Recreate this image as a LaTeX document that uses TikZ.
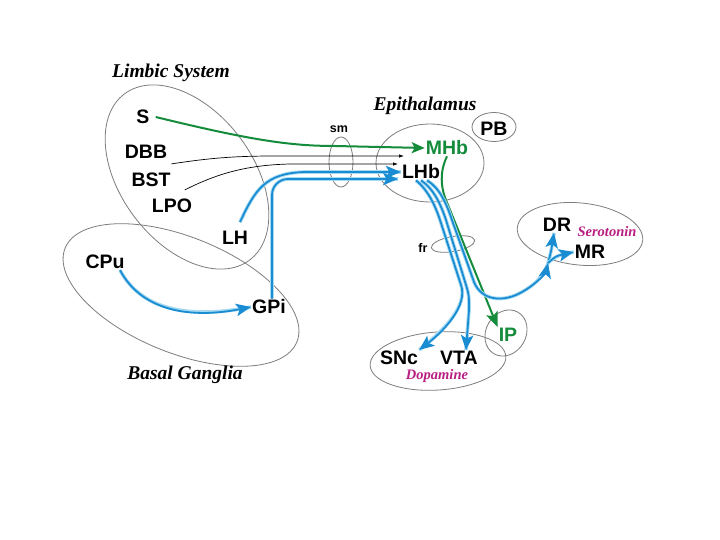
\documentclass[tikz,border=0pt]{standalone}
\usepackage{fontspec}
\setmainfont{Liberation Serif}
\setsansfont{Liberation Sans}
\usetikzlibrary{arrows.meta,shapes.geometric}
\definecolor{gr}{RGB}{20,140,60}
\definecolor{cy}{RGB}{25,140,210}
\definecolor{halo}{RGB}{165,218,242}
\definecolor{mag}{RGB}{185,30,130}
\definecolor{rg}{RGB}{125,125,125}
\begin{document}
\begin{tikzpicture}[x=1pt,y=-1pt,
 region/.style={draw=rg, line width=0.8pt, ellipse, inner sep=0pt},
 lab/.style={font=\sffamily\bfseries\fontsize{19.5}{22}\selectfont, inner sep=1pt},
 smalllab/.style={font=\sffamily\bfseries\fontsize{12.5}{14}\selectfont, inner sep=1pt},
 title/.style={font=\rmfamily\bfseries\itshape\fontsize{19.5}{22}\selectfont},
 trans/.style={font=\rmfamily\bfseries\itshape\fontsize{14.5}{16}\selectfont, text=mag},
 grn/.style={draw=gr, line width=2pt, -{Stealth[length=13pt,width=11pt,inset=3pt]}},
 cyn/.style={draw=cy, line width=1.8pt, -{Stealth[length=15pt,width=12.5pt,inset=3.5pt]}, preaction={draw=halo, line width=3.6pt, -}},
 blk/.style={draw=black, line width=0.7pt, -{Latex[length=5pt,width=3.5pt]}}]
\fill[white] (0,0) rectangle (720,540);
\useasboundingbox (0,0) rectangle (720,540);
% regions
\node[region, minimum width=208pt, minimum height=132pt, rotate=-53] (limbic) at (187,177) {};
\node[region, minimum width=250pt, minimum height=116pt, rotate=-22] (basal) at (181,295) {};
\node[region, minimum width=108pt, minimum height=78pt] (epi) at (430,163) {};
\node[region, minimum width=44pt, minimum height=29pt] (pbreg) at (494,127) {};
\node[region, minimum width=126pt, minimum height=62pt, rotate=-6] (sero) at (580,234) {};
\node[region, minimum width=136pt, minimum height=58pt, rotate=4] (dopa) at (438,361) {};
\node[region, minimum width=48pt, minimum height=40pt, rotate=60] (ipreg) at (506,333) {};
\node[region, minimum width=24pt, minimum height=50pt] (smreg) at (341,162) {};
\node[region, minimum width=44pt, minimum height=15pt, rotate=10] (frreg) at (453,244) {};
% titles
\node[title] (tlimbic) at (171,73) {Limbic System};
\node[title] (tbasal) at (185,375) {Basal Ganglia};
\node[title] (tepi) at (425,106) {Epithalamus};
\node[trans] (tsero) at (607,232) {Serotonin};
\node[trans] (tdopa) at (437,376) {Dopamine};
% labels
\node[lab] (S) at (143,117) {S};
\node[lab] (DBB) at (146,152) {DBB};
\node[lab] (BST) at (151,180) {BST};
\node[lab] (LPO) at (172,206) {LPO};
\node[lab] (LH) at (235,238) {LH};
\node[lab] (CPu) at (105,262) {CPu};
\node[lab] (GPi) at (269,307) {GPi};
\node[lab, text=gr] (MHb) at (447,148) {MHb};
\node[lab] (LHb) at (421,172) {LHb};
\node[lab] (PB) at (494,129) {PB};
\node[lab] (DR) at (557,225) {DR};
\node[lab] (MR) at (590,252) {MR};
\node[lab, text=gr] (IP) at (508,335) {IP};
\node[lab] (SNc) at (399,358) {SNc};
\node[lab] (VTA) at (459,358) {VTA};
\node[smalllab] (sm) at (339,129) {sm};
\node[smalllab] (fr) at (423,248) {fr};
% free ends
\coordinate (dbbend) at (404,156);
\coordinate (bstend) at (398,164);
\coordinate (gpiend) at (398,179);
\coordinate (branch) at (548,263);
% connectors
\draw[grn] ([xshift=5pt]S.east) .. controls (250,140) and (290,146) .. (335,146) -- (MHb.west);
\draw[blk] ([shift={(3pt,-4pt)}]DBB.south east) .. controls (210,158) and (235,156) .. (275,156) -- (dbbend);
\draw[blk] ([shift={(13pt,-10pt)}]BST.east) .. controls (220,172) and (250,165) .. (290,164) -- (bstend);
\draw[cyn] ([shift={(5pt,8pt)}]LH.north) .. controls (255,190) and (265,173) .. (305,172) -- (LHb.west);
\draw[cyn, rounded corners=16pt] ([xshift=3pt]GPi.north) |- (gpiend);
\draw[cyn] ([xshift=15pt]CPu.south) .. controls (140,308) and (185,320) .. (GPi.west);
\draw[grn, -{Stealth[length=15pt,width=12pt,inset=3pt]}] (MHb.south) .. controls (438,175) and (442,192) .. (448,205) -- (IP.north west);
\draw[cyn] ([xshift=6pt]LHb.south) .. controls (440,188) and (447,205) .. (452,220) -- (474,282) .. controls (482,302) and (505,302) .. (522,292) .. controls (538,283) and (546,272) .. (branch);
\draw[cyn] (branch) .. controls (551,252) .. ([xshift=-3pt]DR.south);
\draw[cyn] (branch) .. controls (556,256) .. (MR.west);
\draw[cyn] ([xshift=-5pt]LHb.south) .. controls (428,190) and (435,205) .. (440,220) -- (461,285) .. controls (468,305) and (445,330) .. (SNc.north east);
\draw[cyn] (LHb.south) .. controls (434,189) and (441,205) .. (446,220) -- (466,285) .. controls (469,295) .. (469,310) -- ([xshift=7pt]VTA.north);
\end{tikzpicture}
\end{document}
